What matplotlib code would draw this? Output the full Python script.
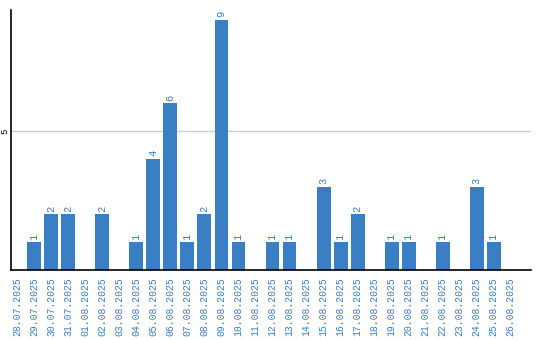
import matplotlib
matplotlib.use("Agg")
from matplotlib import pyplot as plt

# Daily counts, 28.07.2025 - 26.08.2025
dates = ["28.07.2025", "29.07.2025", "30.07.2025", "31.07.2025", "01.08.2025",
         "02.08.2025", "03.08.2025", "04.08.2025", "05.08.2025", "06.08.2025",
         "07.08.2025", "08.08.2025", "09.08.2025", "10.08.2025", "11.08.2025",
         "12.08.2025", "13.08.2025", "14.08.2025", "15.08.2025", "16.08.2025",
         "17.08.2025", "18.08.2025", "19.08.2025", "20.08.2025", "21.08.2025",
         "22.08.2025", "23.08.2025", "24.08.2025", "25.08.2025", "26.08.2025"]
counts = [0, 1, 2, 2, 0, 2, 0, 1, 4, 6, 1, 2, 9, 1, 0,
          1, 1, 0, 3, 1, 2, 0, 1, 1, 0, 1, 0, 3, 1, 0]

blue = "#3a7ec3"
plt.rcParams["font.family"] = ["Liberation Mono", "DejaVu Sans"]

fig = plt.figure(figsize=(5.4, 3.4), dpi=100)
ax = fig.add_axes([0.0195, 0.206, 0.964, 0.765])

x = list(range(len(dates)))
ax.bar(x, counts, width=0.82, color=blue, zorder=2)

# value labels above non-zero bars
for xi, v in zip(x, counts):
    if v > 0:
        ax.text(xi, v + 0.08, str(v), rotation=90, ha="center", va="bottom",
                color=blue, fontsize=7.5)

ax.set_xlim(-0.4, 30.2)
ax.set_ylim(0, 9.35)
ax.set_xticks(x)
ax.set_xticklabels(dates, rotation=90, color=blue, fontsize=7)
ax.tick_params(axis="x", length=0, pad=5)
ax.set_yticks([5])
ax.set_yticklabels(["5"], rotation=90, fontsize=6.5, va="center")
ax.tick_params(axis="y", length=0, pad=1)
ax.grid(axis="y", color="#cccccc", linewidth=1, zorder=0)

for side in ["top", "right"]:
    ax.spines[side].set_visible(False)
ax.spines["left"].set_linewidth(1.2)
ax.spines["bottom"].set_linewidth(1.2)

fig.savefig("out.png", dpi=100)
